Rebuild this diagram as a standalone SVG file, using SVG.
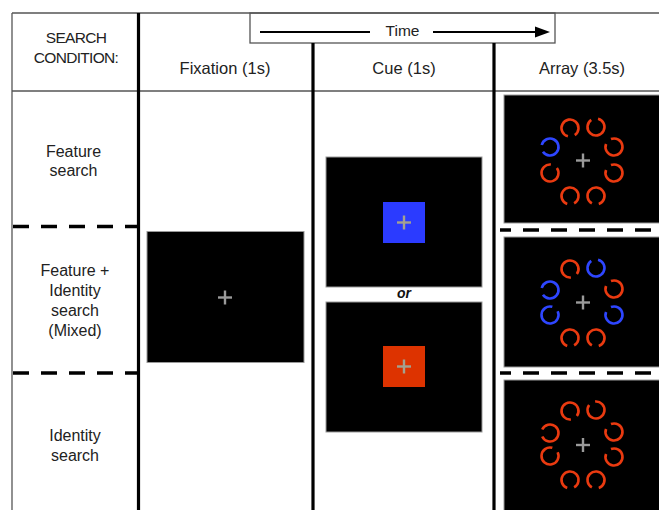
<svg xmlns="http://www.w3.org/2000/svg" xmlns:xlink="http://www.w3.org/1999/xlink" width="659" height="510" viewBox="0 0 659 510">
<style>
text{font-family:"Liberation Sans",Arial,sans-serif;fill:#222;text-anchor:middle}
.h{font-size:16.5px}
.lab{font-size:16px}
.sc{font-size:15.5px;letter-spacing:-0.7px}
.thin{stroke:#555;stroke-width:1.3;fill:none}
.thick{stroke:#000;stroke-width:3.2}
.dash{stroke:#000;stroke-width:3.5;stroke-dasharray:16 12}
.scr{fill:#000;stroke:#999;stroke-width:1}
.cross{stroke:#9a9a9a;stroke-width:2.4}
.ccross{stroke:#a3a190;stroke-width:2.4}
.r{stroke:#ea3a10}
.b{stroke:#2e46ff}
</style>
<defs>
<path id="ring" d="M7.77 3.46 A8.5 8.5 0 1 1 7.77 -3.46" fill="none" stroke-width="2.6"/>
<g id="cr"><line x1="-7" y1="0" x2="7" y2="0"/><line x1="0" y1="-7" x2="0" y2="7"/></g>
</defs>
<rect width="659" height="510" fill="#fff"/>

<g id="grid">
<line class="thin" x1="12" y1="13" x2="659" y2="13"/>
<line class="thin" x1="12" y1="13" x2="12" y2="510"/>
<line class="thin" x1="12" y1="91" x2="659" y2="91"/>
<rect class="thin" x="250" y="13" width="305" height="30"/>
<line class="thick" x1="138.5" y1="13" x2="138.5" y2="510"/>
<line class="thick" x1="313" y1="43" x2="313" y2="510"/>
<line class="thick" x1="494" y1="43" x2="494" y2="510"/>
<line class="dash" x1="13" y1="226.5" x2="138" y2="226.5"/>
<line class="dash" x1="13" y1="373" x2="138" y2="373"/>
<line class="dash" x1="500" y1="230" x2="659" y2="230" stroke-dashoffset="5"/>
<line class="dash" x1="500" y1="373" x2="659" y2="373" stroke-dashoffset="5"/>
</g>

<g id="header">
<text class="sc" x="76" y="43">SEARCH</text>
<text class="sc" x="76" y="63">CONDITION:</text>
<text class="h" x="225" y="74">Fixation (1s)</text>
<text class="h" x="404" y="74">Cue (1s)</text>
<text class="h" x="582" y="74">Array (3.5s)</text>
</g>

<g id="connectors">
<line x1="260" y1="32" x2="370" y2="32" stroke="#000" stroke-width="2"/>
<line x1="433" y1="32" x2="537" y2="32" stroke="#000" stroke-width="2"/>
<polygon points="535,26.5 550,32 535,37.5" fill="#000"/>
<text class="h" x="402.5" y="36" style="font-size:15.5px">Time</text>
</g>

<g id="row-feature">
<text class="lab" x="73.5" y="157">Feature</text>
<text class="lab" x="73.5" y="176">search</text>
</g>
<g id="row-mixed">
<text class="lab" x="75" y="276">Feature +</text>
<text class="lab" x="75" y="296">Identity</text>
<text class="lab" x="75" y="316">search</text>
<text class="lab" x="75" y="336">(Mixed)</text>
</g>
<g id="row-identity">
<text class="lab" x="75" y="441">Identity</text>
<text class="lab" x="75" y="461">search</text>
</g>

<g id="fixation">
<rect class="scr" x="147" y="231.5" width="157" height="131"/>
<use xlink:href="#cr" class="cross" transform="translate(225 297.5)"/>
</g>

<g id="cue-blue">
<rect class="scr" x="326" y="157" width="156" height="130"/>
<rect x="383" y="202" width="42" height="41" fill="#2b3bff"/>
<use xlink:href="#cr" class="ccross" transform="translate(404 222.5)"/>
</g>
<g id="cue-or">
<text x="404" y="298" style="font-size:14px;font-weight:bold;font-style:italic;fill:#111">or</text>
</g>
<g id="cue-red">
<rect class="scr" x="326" y="302" width="156" height="130"/>
<rect x="383" y="346" width="42" height="41" fill="#dd3300"/>
<use xlink:href="#cr" class="ccross" transform="translate(404 366.5)"/>
</g>

<g id="array-feature">
<rect class="scr" x="504" y="95" width="160" height="128"/>
<use xlink:href="#cr" class="cross" transform="translate(583 160.5)"/>
<use xlink:href="#ring" class="r" transform="translate(570 128) rotate(80)"/>
<use xlink:href="#ring" class="r" transform="translate(596 127) rotate(-100)"/>
<use xlink:href="#ring" class="r" transform="translate(614 147) rotate(-135)"/>
<use xlink:href="#ring" class="r" transform="translate(614 173) rotate(-135)"/>
<use xlink:href="#ring" class="r" transform="translate(596 196) rotate(95)"/>
<use xlink:href="#ring" class="r" transform="translate(570 196) rotate(85)"/>
<use xlink:href="#ring" class="r" transform="translate(550 173) rotate(-60)"/>
<use xlink:href="#ring" class="b" transform="translate(550 147) rotate(170)"/>
</g>

<g id="array-mixed">
<rect class="scr" x="504" y="237" width="160" height="130"/>
<use xlink:href="#cr" class="cross" transform="translate(583 302.5)"/>
<use xlink:href="#ring" class="r" transform="translate(570 269) rotate(60)"/>
<use xlink:href="#ring" class="b" transform="translate(596 268) rotate(-100)"/>
<use xlink:href="#ring" class="r" transform="translate(614 289) rotate(-135)"/>
<use xlink:href="#ring" class="b" transform="translate(614 315) rotate(-135)"/>
<use xlink:href="#ring" class="r" transform="translate(596 338) rotate(95)"/>
<use xlink:href="#ring" class="r" transform="translate(570 338) rotate(85)"/>
<use xlink:href="#ring" class="b" transform="translate(550 315) rotate(-50)"/>
<use xlink:href="#ring" class="b" transform="translate(550 290) rotate(170)"/>
</g>

<g id="array-identity">
<rect class="scr" x="504" y="380" width="160" height="135"/>
<use xlink:href="#cr" class="cross" transform="translate(583 445)"/>
<use xlink:href="#ring" class="r" transform="translate(570 411) rotate(60)"/>
<use xlink:href="#ring" class="r" transform="translate(596 410) rotate(-120)"/>
<use xlink:href="#ring" class="r" transform="translate(614 432) rotate(-135)"/>
<use xlink:href="#ring" class="r" transform="translate(614 457) rotate(-135)"/>
<use xlink:href="#ring" class="r" transform="translate(596 480) rotate(95)"/>
<use xlink:href="#ring" class="r" transform="translate(570 480) rotate(85)"/>
<use xlink:href="#ring" class="r" transform="translate(550 456) rotate(-50)"/>
<use xlink:href="#ring" class="r" transform="translate(550 433) rotate(180)"/>
</g>
</svg>
